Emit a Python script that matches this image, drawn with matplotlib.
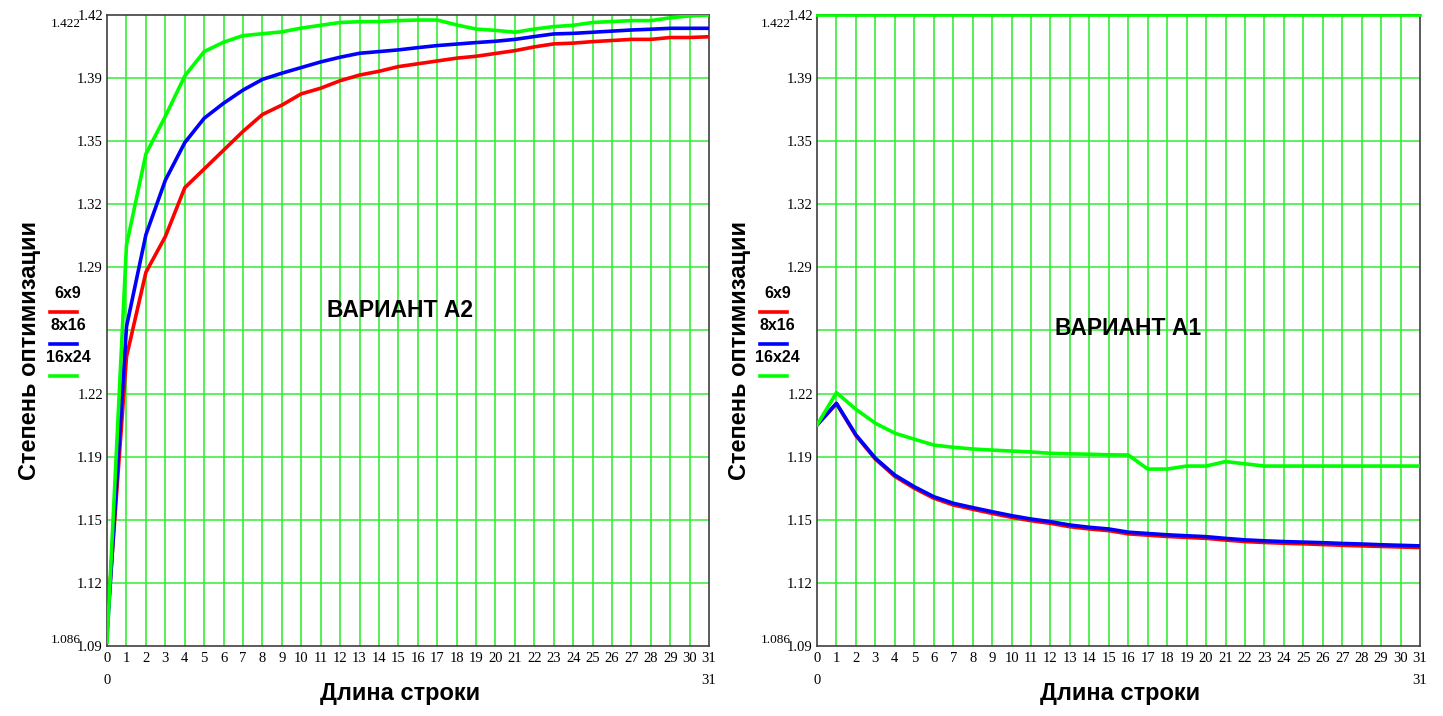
import matplotlib
matplotlib.use("Agg")
import matplotlib.pyplot as plt

# x: длина строки
x = list(range(32))

# ВАРИАНТ А2 (left panel)
a2_6x9 = [1.097, 1.240, 1.285, 1.304, 1.330, 1.340, 1.350, 1.360, 1.369, 1.374,
          1.380, 1.383, 1.387, 1.390, 1.392, 1.3945, 1.396, 1.3975, 1.399, 1.400,
          1.4015, 1.403, 1.405, 1.4066, 1.407, 1.4078, 1.4084, 1.409, 1.409, 1.410,
          1.410, 1.4104]
a2_8x16 = [1.092, 1.256, 1.305, 1.334, 1.354, 1.367, 1.375, 1.382, 1.3877, 1.391,
           1.394, 1.397, 1.3995, 1.4016, 1.4025, 1.4034, 1.4046, 1.4057, 1.4065, 1.4073,
           1.408, 1.409, 1.4105, 1.4119, 1.4122, 1.4128, 1.4134, 1.414, 1.4144, 1.4149,
           1.4149, 1.4149]
a2_16x24 = [1.088, 1.2995, 1.348, 1.368, 1.3895, 1.4025, 1.4075, 1.411, 1.412, 1.413,
            1.415, 1.4165, 1.418, 1.4184, 1.4185, 1.419, 1.4193, 1.4193, 1.4167, 1.4145,
            1.4138, 1.4128, 1.4145, 1.4158, 1.4165, 1.418, 1.4185, 1.419, 1.419, 1.4205,
            1.4215, 1.422]

# ВАРИАНТ А1 (right panel)
a1_6x9 = [1.2037, 1.2150, 1.1980, 1.1855, 1.1763, 1.1700, 1.1647, 1.1611, 1.1588, 1.1566,
          1.1545, 1.1527, 1.1513, 1.1495, 1.1483, 1.1474, 1.1457, 1.1450, 1.1443, 1.1438,
          1.1433, 1.1424, 1.1416, 1.1411, 1.1407, 1.1404, 1.1400, 1.1396, 1.1393, 1.1390,
          1.1387, 1.1384]
a1_8x16 = [1.2037, 1.2152, 1.1984, 1.186, 1.177, 1.1708, 1.1655, 1.162, 1.1597, 1.1575,
           1.1554, 1.1536, 1.1522, 1.1504, 1.1492, 1.1483, 1.1466, 1.1459, 1.1452, 1.1447,
           1.1442, 1.1433, 1.1425, 1.1420, 1.1416, 1.1413, 1.141, 1.1406, 1.1403, 1.1399,
           1.1396, 1.1393]
a1_16x24 = [1.2037, 1.2209, 1.212, 1.2046, 1.1993, 1.1961, 1.193, 1.1918, 1.1909, 1.1903,
            1.1898, 1.1893, 1.1886, 1.1883, 1.1881, 1.1878, 1.1877, 1.1802, 1.1802, 1.1818,
            1.1818, 1.1842, 1.183, 1.1818, 1.1818, 1.1818, 1.1818, 1.1818, 1.1818, 1.1818,
            1.1818, 1.1818]

series_names = ["6x9", "8x16", "16x24"]
series_colors = ["#ff0000", "#0000ff", "#00ff00"]

y_min, y_max = 1.086, 1.422
y_ticks = [y_min + (y_max - y_min) * k / 10 for k in range(11)]
y_ticklabels = ["1.09", "1.12", "1.15", "1.19", "1.22", "", "1.29", "1.32", "1.35", "1.39", "1.42"]

serif = "Liberation Serif"
sans = "Liberation Sans"

fig = plt.figure(figsize=(14.43, 7.16), dpi=100)


def draw_panel(rect, data, title, title_xy, xlabel_x, top_green=False):
    ax = fig.add_axes(rect)
    ax.set_xlim(0, 31)
    ax.set_ylim(y_min, y_max)
    for xv in range(1, 31):
        ax.axvline(xv, color="#22ee22", lw=1.1, zorder=1)
    for yv in y_ticks[1:-1]:
        ax.axhline(yv, color="#33ee33", lw=1.1, zorder=1)
    if top_green:
        ax.axhline(y_max, color="#00ff00", lw=2, zorder=5, clip_on=False)

    for vals, c in zip(data, series_colors):
        ax.plot(x, vals, color=c, lw=2.6, zorder=3, solid_joinstyle="round")

    ax.set_xticks(x)
    ax.set_xticklabels([str(v) for v in x], fontfamily=serif, fontsize=10.5)
    ax.set_yticks(y_ticks)
    ax.set_yticklabels(y_ticklabels, fontfamily=serif, fontsize=10.5)
    ax.tick_params(axis="x", length=0, pad=4)
    ax.tick_params(axis="y", length=0, pad=3)
    for s in ax.spines.values():
        s.set_color("#404040")
        s.set_linewidth(1.2)

    # Mathcad-style range markers
    ax.text(-0.043, 0.985, "1.422", transform=ax.transAxes, ha="right", va="center",
            fontfamily=serif, fontsize=9.5)
    ax.text(-0.043, 0.0, "1.086", transform=ax.transAxes, ha="right", va="bottom",
            fontfamily=serif, fontsize=9.5)
    ax.text(0.0, -0.045, "0", transform=ax.transAxes, ha="center", va="top",
            fontfamily=serif, fontsize=10.5)
    ax.text(1.0, -0.045, "31", transform=ax.transAxes, ha="center", va="top",
            fontfamily=serif, fontsize=10.5)

    ax.set_xlabel("Длина строки", fontfamily=sans, fontweight="bold", fontsize=17)
    ax.xaxis.set_label_coords(xlabel_x, -0.057)
    ax.set_ylabel("Степень оптимизации", fontfamily=sans, fontweight="bold", fontsize=17)
    ax.yaxis.set_label_coords(-0.11, 0.469)

    ax.text(title_xy[0], title_xy[1], title, ha="center", va="center", fontfamily=sans,
            fontweight="bold", fontsize=16.5, zorder=6)

    # legend, placed left of the axis
    for i, (name, c) in enumerate(zip(series_names, series_colors)):
        ty = 0.558 - i * 0.0505
        ax.text(-0.065, ty, name, transform=ax.transAxes, ha="center", va="center",
                fontfamily=sans, fontweight="bold", fontsize=11.5)
        ax.plot([-0.094, -0.050], [ty - 0.029, ty - 0.029], transform=ax.transAxes,
                color=c, lw=2.6, clip_on=False)
    return ax


draw_panel([0.0742, 0.0978, 0.4172, 0.8813], [a2_6x9, a2_8x16, a2_16x24],
           "ВАРИАНТ А2", (15.1, 1.2644), 0.487)
draw_panel([0.5662, 0.0978, 0.4179, 0.8813], [a1_6x9, a1_8x16, a1_16x24],
           "ВАРИАНТ А1", (16.0, 1.2548), 0.502, top_green=True)

fig.savefig("out.png", dpi=100, facecolor="white")
